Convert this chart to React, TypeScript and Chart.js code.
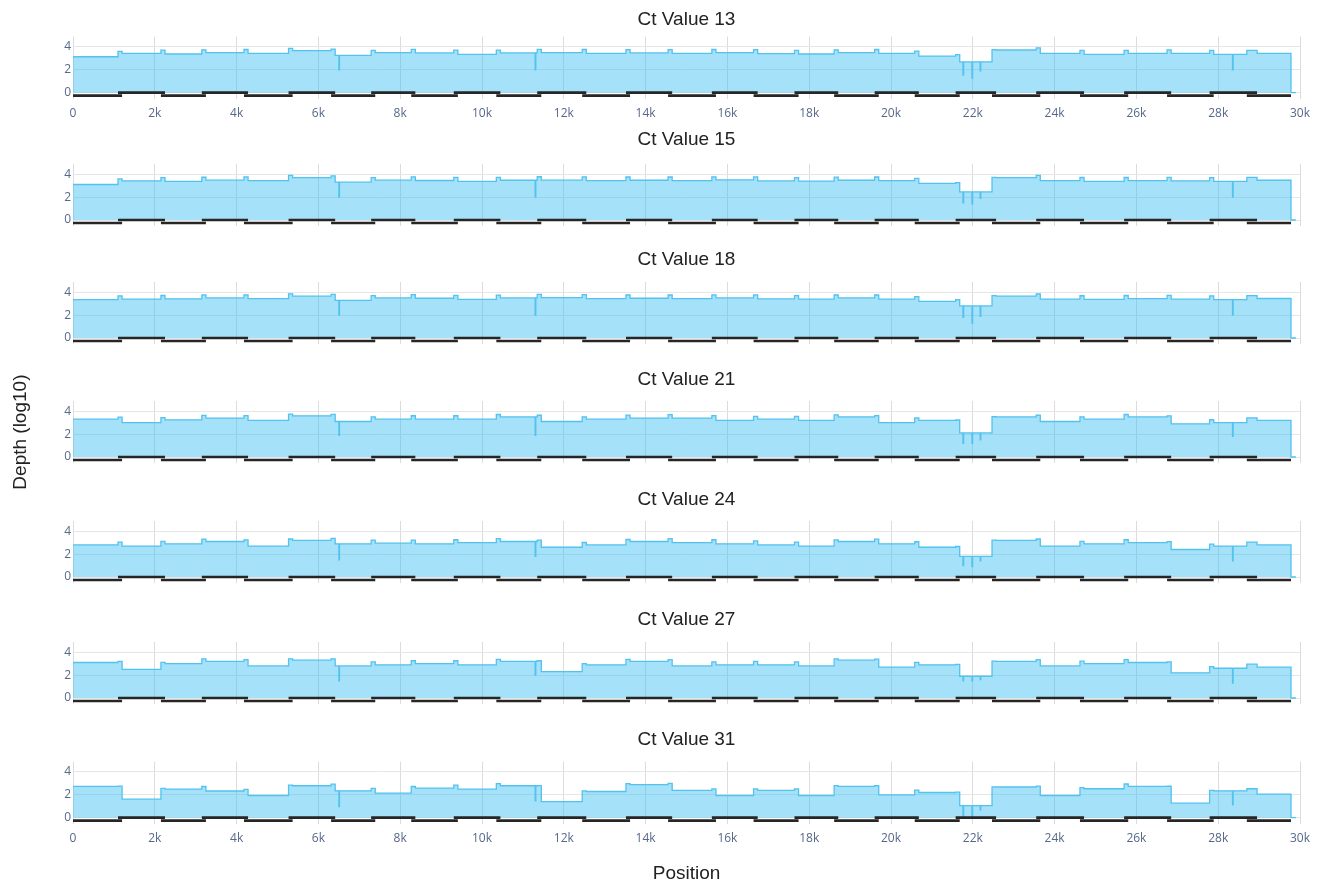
import React, { useEffect, useRef } from "react";
import { Chart, registerables } from "chart.js";

Chart.register(...registerables);

// ---------------- data ----------------
const CT_VALUES = [13, 15, 18, 21, 24, 27, 31];

// amplicon scheme (bp)
const AMP_START = [0, 1100, 2150, 3150, 4180, 5270, 6310, 7290, 8270, 9310, 10350, 11350, 12450, 13520, 14550, 15620, 16640, 17640, 18610, 19600, 20580, 21580, 22470, 23550, 24620, 25700, 26750, 27790, 28700];
const AMP_END = [1200, 2250, 3250, 4280, 5370, 6410, 7390, 8370, 9410, 10450, 11450, 12550, 13620, 14650, 15720, 16740, 17740, 18710, 19700, 20680, 21680, 22570, 23650, 24720, 25800, 26850, 27890, 28950, 29780];

// log10 depth per amplicon
const DEPTH_CT13 = [3.14, 3.44, 3.38, 3.5, 3.44, 3.67, 3.26, 3.5, 3.47, 3.35, 3.47, 3.5, 3.44, 3.47, 3.44, 3.5, 3.41, 3.38, 3.5, 3.44, 3.2, 2.7, 3.73, 3.44, 3.35, 3.44, 3.44, 3.35, 3.44];
const DEPTH_CT15 = [3.1, 3.42, 3.38, 3.48, 3.44, 3.7, 3.3, 3.48, 3.45, 3.38, 3.47, 3.48, 3.44, 3.47, 3.44, 3.5, 3.41, 3.4, 3.47, 3.44, 3.2, 2.45, 3.7, 3.44, 3.38, 3.44, 3.42, 3.38, 3.47];
const DEPTH_CT18 = [3.35, 3.4, 3.42, 3.5, 3.44, 3.65, 3.28, 3.5, 3.47, 3.38, 3.5, 3.52, 3.44, 3.47, 3.44, 3.5, 3.41, 3.4, 3.5, 3.4, 3.2, 2.8, 3.65, 3.4, 3.38, 3.44, 3.4, 3.35, 3.45];
const DEPTH_CT21 = [3.3, 3.0, 3.25, 3.4, 3.2, 3.6, 3.1, 3.3, 3.3, 3.3, 3.5, 3.1, 3.3, 3.4, 3.4, 3.2, 3.3, 3.2, 3.5, 3.0, 3.2, 2.1, 3.5, 3.1, 3.3, 3.5, 2.9, 3.0, 3.2];
const DEPTH_CT24 = [2.8, 2.7, 2.9, 3.1, 2.7, 3.2, 2.9, 2.95, 2.9, 3.0, 3.1, 2.6, 2.8, 3.1, 3.0, 2.9, 2.8, 2.7, 3.1, 2.9, 2.6, 1.8, 3.2, 2.7, 2.9, 3.0, 2.4, 2.7, 2.8];
const DEPTH_CT27 = [3.1, 2.5, 3.0, 3.2, 2.8, 3.3, 2.8, 2.9, 3.0, 2.9, 3.2, 2.3, 2.9, 3.2, 2.8, 2.9, 2.9, 2.8, 3.3, 2.7, 2.9, 1.9, 3.2, 2.8, 3.0, 3.1, 2.2, 2.6, 2.7];
const DEPTH_CT31 = [2.73, 1.62, 2.5, 2.33, 1.94, 2.79, 2.35, 2.15, 2.59, 2.5, 2.79, 1.41, 2.29, 2.88, 2.38, 1.94, 2.38, 1.94, 2.73, 2.0, 2.2, 1.06, 2.68, 1.94, 2.53, 2.73, 1.27, 2.35, 2.06];
const DEPTHS = [DEPTH_CT13, DEPTH_CT15, DEPTH_CT18, DEPTH_CT21, DEPTH_CT24, DEPTH_CT27, DEPTH_CT31];

// narrow drop-outs
const DIP_POS = [6500, 11300, 21760, 21980, 22180, 28350];
const DIP_WIDTH = 15;
const DIP_CT13 = [2.0, 2.0, 1.53, 1.27, 1.9, 2.0];
const DIP_CT15 = [2.0, 2.0, 1.5, 1.4, 1.9, 2.0];
const DIP_CT18 = [2.0, 2.0, 1.8, 1.3, 1.9, 2.0];
const DIP_CT21 = [1.9, 1.9, 1.2, 1.2, 1.5, 1.8];
const DIP_CT24 = [1.5, 1.8, 1.0, 0.9, 1.4, 1.4];
const DIP_CT27 = [1.5, 2.0, 1.5, 1.5, 1.6, 1.3];
const DIP_CT31 = [0.97, 1.47, 0.1, 0.1, 0.68, 1.12];
const DIPS = [DIP_CT13, DIP_CT15, DIP_CT18, DIP_CT21, DIP_CT24, DIP_CT27, DIP_CT31];

const GENOME_TAIL = 29900;
const POOL_LEVELS = [-0.26, 0]; // odd amplicons, even amplicons

const X_TICKS = [0, 2000, 4000, 6000, 8000, 10000, 12000, 14000, 16000, 18000, 20000, 22000, 24000, 26000, 28000, 30000];
const X_TICK_LABELS = ["0", "2k", "4k", "6k", "8k", "10k", "12k", "14k", "16k", "18k", "20k", "22k", "24k", "26k", "28k", "30k"];
const Y_TICKS = [0, 2, 4];
const Y_MIN = -0.55;
const Y_MAX = 4.9;
const X_MAX = 30000;

// ---------------- layout ----------------
const W = 1324;
const PAGE_H = 886;
const PLOT_LEFT = 73;
const PLOT_RIGHT = 1300;
const TITLE_Y = [19.3, 140, 259.5, 380, 499.5, 619.5, 739.5];
const ZERO_Y = [92.7, 220, 338, 457, 577, 698, 817.7];
const PX_PER_UNIT = 11.45;
const TITLE_SIZE = 19;
const TITLE_LH = TITLE_SIZE * 1.2;
const FONT_TITLE = "'Liberation Sans', Arial, Helvetica, sans-serif";
const FONT_TICK = "'Open Sans', 'Noto Sans', sans-serif";
const TICK_COLOR = "#56688a";

function coveragePoints(k: number) {
  const depth = DEPTHS[k];
  const dips = DIPS[k];
  const posSet = new Set<number>();
  AMP_START.forEach((p) => posSet.add(p));
  AMP_END.forEach((p) => posSet.add(p));
  DIP_POS.forEach((p) => { posSet.add(p); posSet.add(p + DIP_WIDTH); });
  const pos = Array.from(posSet).sort((a, b) => a - b);
  const pts: { x: number; y: number }[] = [];
  for (let i = 0; i < pos.length; i++) {
    const p = pos[i];
    let y = 0;
    const di = DIP_POS.findIndex((d) => p >= d && p < d + DIP_WIDTH);
    if (di >= 0) {
      y = dips[di];
    } else {
      let lin = 0;
      for (let a = 0; a < AMP_START.length; a++) {
        if (p >= AMP_START[a] && p < AMP_END[a]) lin += Math.pow(10, depth[a]);
      }
      y = lin > 0 ? Math.log10(lin) : 0;
    }
    pts.push({ x: p, y });
  }
  pts.push({ x: GENOME_TAIL, y: 0 });
  return pts;
}

function poolPoints(pool: number) {
  const pts: { x: number; y: number | null }[] = [];
  for (let a = pool; a < AMP_START.length; a += 2) {
    pts.push({ x: AMP_START[a], y: POOL_LEVELS[pool] });
    pts.push({ x: AMP_END[a], y: POOL_LEVELS[pool] });
    pts.push({ x: AMP_END[a], y: null });
  }
  return pts;
}

function Panel({ k }: { k: number }) {
  const ref = useRef<HTMLCanvasElement | null>(null);
  const last = k === CT_VALUES.length - 1;
  const showX = k === 0 || last;
  const T = Math.floor(TITLE_Y[k] - TITLE_LH / 2 - 2);
  const padTop = TITLE_Y[k] - T - TITLE_LH / 2;
  const areaTop = ZERO_Y[k] - Y_MAX * PX_PER_UNIT;
  const areaBottom = ZERO_Y[k] - Y_MIN * PX_PER_UNIT;
  const padBottom = areaTop - T - padTop - TITLE_LH;
  const wantX = k === 0 ? 26 : last ? 61 : 3;
  const H = Math.min(PAGE_H - T, Math.ceil(areaBottom - T + wantX));
  const xAxisH = H - (areaBottom - T);

  useEffect(() => {
    if (!ref.current) return;
    const chart = new Chart(ref.current, {
      type: "line",
      data: {
        datasets: [
          {
            data: poolPoints(0),
            borderColor: "#262626",
            borderWidth: 2.7,
            pointRadius: 0,
            fill: false,
            spanGaps: false,
            order: 0,
          },
          {
            data: poolPoints(1),
            borderColor: "#262626",
            borderWidth: 2.7,
            pointRadius: 0,
            fill: false,
            spanGaps: false,
            order: 0,
          },
          {
            data: coveragePoints(k),
            stepped: "before",
            borderColor: "#52c2ee",
            borderWidth: 1.3,
            backgroundColor: "rgba(56,189,240,0.45)",
            fill: "origin",
            pointRadius: 0,
            order: 1,
          },
        ] as any,
      },
      options: {
        responsive: false,
        animation: false,
        events: [],
        layout: { padding: { left: 0, right: W - PLOT_RIGHT, top: T, bottom: PAGE_H - T - H } },
        plugins: {
          legend: { display: false },
          tooltip: { enabled: false },
          title: {
            display: true,
            text: `Ct Value ${CT_VALUES[k]}`,
            color: "#222",
            font: { family: FONT_TITLE, size: TITLE_SIZE, weight: "normal" as any, lineHeight: 1.2 },
            padding: { top: padTop, bottom: padBottom },
            fullSize: false,
          },
        },
        scales: {
          x: {
            type: "linear",
            min: 0,
            max: X_MAX,
            afterBuildTicks: (s: any) => {
              s.ticks = X_TICKS.map((v) => ({ value: v }));
            },
            afterFit: (s: any) => {
              s.height = xAxisH;
              s.paddingLeft = 0;
              s.paddingRight = 0;
            },
            grid: { color: "#dcdcdc", lineWidth: 1, drawTicks: false },
            border: { display: false },
            ticks: {
              display: showX,
              padding: 7,
              maxRotation: 0,
              autoSkip: false,
              color: TICK_COLOR,
              font: { family: FONT_TICK, size: 12 },
              callback: (v: any) => {
                const i = X_TICKS.indexOf(Number(v));
                return i >= 0 ? X_TICK_LABELS[i] : "";
              },
            },
            title: {
              display: last,
              text: "Position",
              color: "#222",
              font: { family: FONT_TITLE, size: TITLE_SIZE, lineHeight: 1.2 },
              padding: { top: 0, bottom: Math.max(0, T + H - TITLE_LH / 2 - 874) },
            },
          },
          y: {
            type: "linear",
            min: Y_MIN,
            max: Y_MAX,
            afterBuildTicks: (s: any) => {
              s.ticks = Y_TICKS.map((v) => ({ value: v }));
            },
            afterFit: (s: any) => {
              s.width = PLOT_LEFT;
              s.paddingTop = 0;
              s.paddingBottom = 0;
            },
            grid: { color: "#e6e6e6", lineWidth: 1, drawTicks: false },
            border: { display: false },
            ticks: {
              padding: 2,
              color: TICK_COLOR,
              font: { family: FONT_TICK, size: 12 },
              callback: (v: any) => String(v),
            },
            title: {
              display: k === 3,
              text: "Depth (log10)",
              color: "#222",
              font: { family: FONT_TITLE, size: TITLE_SIZE, lineHeight: 1.2 },
              padding: { top: 9, bottom: 0 },
            },
          },
        },
      } as any,
    });
    return () => chart.destroy();
  }, [k]);

  return (
    <canvas
      ref={ref}
      width={W}
      height={PAGE_H}
      style={{ position: "absolute", left: 0, top: 0, width: W, height: PAGE_H }}
    />
  );
}

export default function App() {
  return (
    <div style={{ position: "absolute", left: 0, top: 0, width: W, height: PAGE_H, overflow: "hidden", background: "#fff" }}>
      {CT_VALUES.map((_, k) => (
        <Panel key={k} k={k} />
      ))}
    </div>
  );
}
